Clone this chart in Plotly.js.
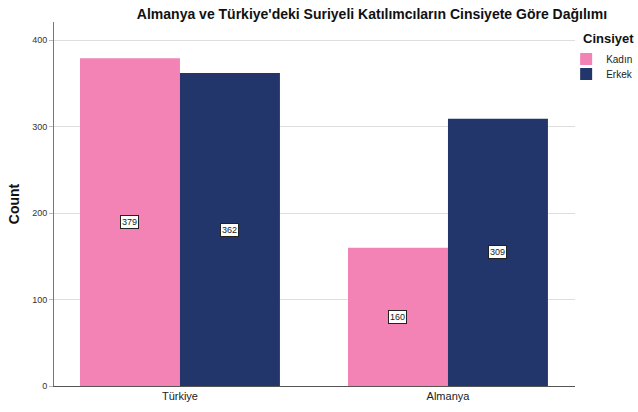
<!DOCTYPE html>
<html>
<head>
<meta charset="utf-8">
<script src="https://cdn.plot.ly/plotly-3.0.1.min.js"></script>
<style>html,body{margin:0;padding:0;background:#fff;}</style>
</head>
<body>
<div id="chart" style="width:638px;height:412px;"></div>
<script>
const categories = ["Türkiye", "Almanya"];
const seriesNames = ["Kadın", "Erkek"];
const kadin = [379, 160];
const erkek = [362, 309];
const tickValues = [0, 100, 200, 300, 400];

const colors = ["#F283B4", "#22366C"];
const seriesData = [kadin, erkek];
const legendIds = ["legend", "legend2"];
const font = "Liberation Sans, Arial, sans-serif";

const traces = seriesData.map((vals, i) => ({
  type: "bar",
  name: seriesNames[i],
  x: categories,
  y: vals,
  legend: legendIds[i],
  marker: {color: colors[i], line: {width: 0}},
  hoverinfo: "none"
}));

const barHalf = 50;
const annotations = [];
seriesData.forEach((vals, i) => {
  vals.forEach((v, j) => {
    annotations.push({
      x: categories[j], y: v / 2, xref: "x", yref: "y",
      text: String(v), showarrow: false,
      xshift: (i === 0 ? -1 : 1) * barHalf,
      bgcolor: "#ffffff", bordercolor: "#222", borderwidth: 1, borderpad: 1,
      font: {family: font, size: 9, color: "#222"}
    });
  });
});
annotations.push({
  xref: "paper", yref: "paper", x: 1.0, y: 0.956, xanchor: "left", yanchor: "middle",
  xshift: 6, text: "<b>Cinsiyet</b>", showarrow: false,
  font: {family: font, size: 13, color: "#111"}
});

const legendBase = {
  x: 0.983, xanchor: "left", yanchor: "top",
  font: {family: font, size: 10, color: "#222"},
  itemwidth: 30, tracegroupgap: 0,
  bgcolor: "rgba(0,0,0,0)"
};

const layout = {
  width: 638, height: 412,
  margin: {l: 54, r: 63, t: 22, b: 26, autoexpand: false},
  paper_bgcolor: "#fff", plot_bgcolor: "#fff",
  title: {
    text: "<b>Almanya ve Türkiye'deki Suriyeli Katılımcıların Cinsiyete Göre Dağılımı</b>",
    font: {family: font, size: 14, color: "#111"},
    x: 0.583, xanchor: "center", y: 0.978, yanchor: "top"
  },
  barmode: "group",
  bargap: 0.254,
  bargroupgap: 0,
  xaxis: {
    type: "category",
    range: [-0.47, 1.474],
    showline: true, linecolor: "#555", linewidth: 1,
    ticks: "", showgrid: false,
    tickfont: {family: font, size: 11, color: "#222"}
  },
  yaxis: {
    range: [0, 421],
    tickvals: tickValues,
    ticks: "outside", ticklen: 4, tickcolor: "#bbb",
    showline: true, linecolor: "#777", linewidth: 1,
    showgrid: true, gridcolor: "#dedede", gridwidth: 1,
    zeroline: false,
    tickfont: {family: font, size: 9, color: "#333"},
    title: {text: "<b>Count</b>", font: {family: font, size: 14, color: "#111"}, standoff: 9}
  },
  legend: Object.assign({}, legendBase, {y: 0.938}),
  legend2: Object.assign({}, legendBase, {y: 0.897}),
  showlegend: true,
  annotations: annotations
};

Plotly.newPlot("chart", traces, layout, {displayModeBar: false, staticPlot: true});
</script>
</body>
</html>
